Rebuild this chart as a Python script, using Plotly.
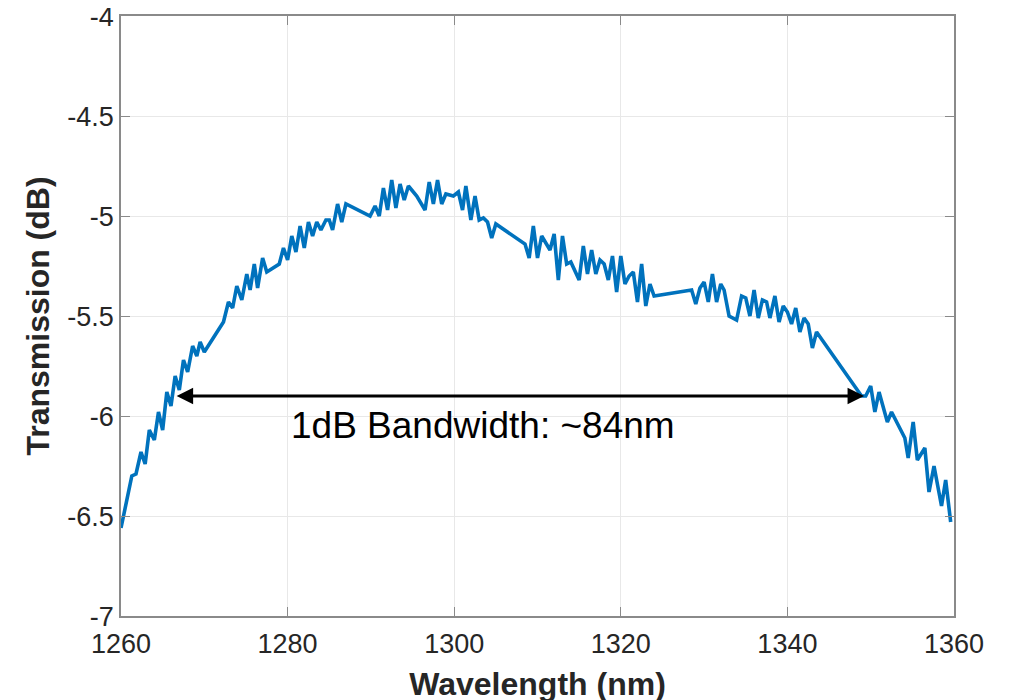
import plotly.graph_objects as go

wavelength_nm = [
    1260.0, 1261.3, 1261.8, 1262.4, 1262.9, 1263.4, 1264.0, 1264.5, 1265.0, 1265.5,
    1266.0, 1266.5, 1267.0, 1267.5, 1268.0, 1268.6, 1269.1, 1269.5, 1270.0, 1272.3,
    1272.9, 1273.4, 1273.9, 1274.5, 1275.1, 1275.5, 1276.0, 1276.4, 1277.0, 1277.5,
    1279.0, 1279.5, 1280.0, 1280.5, 1281.0, 1281.5, 1282.0, 1282.5, 1283.0, 1283.5,
    1284.0, 1284.6, 1285.0, 1285.4, 1286.0, 1286.5, 1287.0, 1289.9, 1290.5, 1291.0,
    1291.5, 1292.0, 1292.5, 1293.0, 1293.5, 1294.0, 1294.5, 1295.5, 1296.5, 1297.0,
    1297.5, 1298.0, 1298.5, 1299.0, 1299.9, 1300.5, 1301.0, 1301.4, 1302.0, 1302.5,
    1303.0, 1303.5, 1304.0, 1304.5, 1305.0, 1308.5, 1309.0, 1309.5, 1310.0, 1310.5,
    1311.5, 1312.0, 1312.5, 1313.0, 1313.5, 1314.0, 1315.0, 1315.5, 1316.0, 1316.5,
    1317.0, 1317.5, 1318.0, 1318.5, 1319.0, 1319.5, 1320.0, 1320.5, 1321.0, 1321.5,
    1322.0, 1322.5, 1323.0, 1323.5, 1324.0, 1328.5, 1329.0, 1329.5, 1330.0, 1330.5,
    1331.0, 1331.5, 1332.0, 1332.4, 1333.0, 1333.9, 1334.5, 1335.0, 1335.5, 1336.0,
    1336.5, 1337.0, 1337.5, 1337.9, 1338.5, 1339.0, 1339.5, 1340.0, 1340.5, 1341.0,
    1341.5, 1342.0, 1342.5, 1343.0, 1343.5, 1348.9, 1349.4, 1350.0, 1350.5, 1351.0,
    1352.0, 1352.5, 1354.1, 1354.5, 1355.1, 1355.6, 1356.5, 1357.0, 1357.6, 1358.5,
    1359.0, 1359.6,
]

transmission_db = [
    -6.56, -6.30, -6.29, -6.18, -6.24, -6.07, -6.12, -5.98, -6.07, -5.88,
    -5.95, -5.80, -5.87, -5.72, -5.78, -5.65, -5.70, -5.63, -5.68, -5.53,
    -5.43, -5.46, -5.35, -5.42, -5.29, -5.37, -5.24, -5.36, -5.21, -5.28,
    -5.24, -5.16, -5.22, -5.10, -5.18, -5.05, -5.16, -5.03, -5.10, -5.03,
    -5.07, -5.02, -5.02, -5.07, -4.94, -5.03, -4.94, -5.00, -4.95, -5.00,
    -4.86, -4.97, -4.82, -4.96, -4.84, -4.92, -4.85, -4.90, -4.97, -4.83,
    -4.94, -4.82, -4.94, -4.89, -4.90, -4.88, -4.97, -4.85, -5.02, -4.90,
    -5.02, -5.01, -5.03, -5.11, -5.04, -5.14, -5.21, -5.05, -5.21, -5.10,
    -5.17, -5.09, -5.32, -5.10, -5.24, -5.23, -5.32, -5.15, -5.29, -5.17,
    -5.29, -5.22, -5.24, -5.32, -5.20, -5.38, -5.20, -5.34, -5.30, -5.28,
    -5.43, -5.24, -5.45, -5.34, -5.40, -5.37, -5.44, -5.36, -5.33, -5.43,
    -5.29, -5.43, -5.34, -5.37, -5.50, -5.52, -5.40, -5.41, -5.50, -5.37,
    -5.51, -5.42, -5.43, -5.51, -5.40, -5.53, -5.45, -5.48, -5.54, -5.46,
    -5.58, -5.51, -5.54, -5.66, -5.58, -5.90, -5.90, -5.85, -5.98, -5.88,
    -6.03, -5.98, -6.11, -6.21, -6.03, -6.22, -6.16, -6.38, -6.25, -6.45,
    -6.32, -6.53,
]

x_ticks = [1260, 1280, 1300, 1320, 1340, 1360]
x_ticktext = ["1260", "1280", "1300", "1320", "1340", "1360"]
y_ticks = [-7, -6.5, -6, -5.5, -5, -4.5, -4]
y_ticktext = ["-7", "-6.5", "-6", "-5.5", "-5", "-4.5", "-4"]

bandwidth_start = 1266.5
bandwidth_end = 1349.2
bandwidth_level = -5.9
bandwidth_label = "1dB Bandwidth: ~84nm"
label_x = 1303.5
label_y = -6.045

font_family = "Liberation Sans, Arial, Helvetica, sans-serif"

fig = go.Figure()
fig.add_trace(go.Scatter(
    x=wavelength_nm, y=transmission_db, mode="lines",
    line=dict(color="#0072BD", width=3.6), showlegend=False,
))

fig.add_annotation(
    x=bandwidth_end, y=bandwidth_level, ax=bandwidth_start, ay=bandwidth_level,
    xref="x", yref="y", axref="x", ayref="y",
    showarrow=True, arrowhead=2, arrowside="end+start", arrowsize=1.1,
    arrowwidth=3, arrowcolor="black", text="",
)
fig.add_annotation(
    x=label_x, y=label_y, xref="x", yref="y", text=bandwidth_label,
    showarrow=False, font=dict(family=font_family, size=37, color="black"),
)

axis_common = dict(
    showline=True, linecolor="#8a8a8a", linewidth=1.5, mirror="ticks",
    ticks="inside", ticklen=9, tickcolor="#8a8a8a", tickwidth=1.2,
    showgrid=True, gridcolor="#e8e8e8", gridwidth=1, zeroline=False,
    automargin=False, ticklabeloverflow="allow",
    tickfont=dict(family=font_family, size=27, color="#262626"),
)

fig.update_xaxes(
    range=[1260, 1360], tickvals=x_ticks, ticktext=x_ticktext,
    ticklabelstandoff=3,
    title=dict(text="<b>Wavelength (nm)</b>", standoff=14,
               font=dict(family=font_family, size=32, color="#262626")),
    **axis_common,
)
fig.update_yaxes(
    range=[-7, -4], tickvals=y_ticks, ticktext=y_ticktext,
    ticklabelshift=1,
    title=dict(text="<b>Transmission (dB)</b>", standoff=8,
               font=dict(family=font_family, size=32, color="#262626")),
    **axis_common,
)

fig.update_layout(
    width=1015, height=700,
    margin=dict(l=113, r=69, t=8, b=92, pad=0),
    plot_bgcolor="white", paper_bgcolor="white",
)

fig.write_html("out.html")
